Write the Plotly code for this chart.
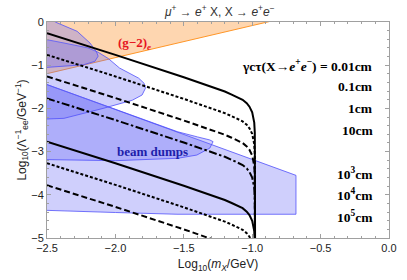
import plotly.graph_objects as go

# ---------------- data ----------------
# decay-length contours: shared x grid, one y list per contour
curve_x = [-2.5, -2.0, -1.5, -1.3, -1.2, -1.15, -1.1, -1.07, -1.04, -1.02, -1.0, -0.99, -0.985, -0.981, -0.979, -0.978]
c_001cm = [-0.26, -0.76, -1.28, -1.49, -1.61, -1.68, -1.75, -1.80, -1.88, -1.96, -2.09, -2.21, -2.33, -2.56, -2.93, -6.28]
c_01cm  = [-0.76, -1.26, -1.78, -1.99, -2.11, -2.18, -2.25, -2.30, -2.38, -2.46, -2.59, -2.71, -2.83, -3.06, -3.43, -6.78]
c_1cm   = [-1.26, -1.76, -2.28, -2.49, -2.61, -2.68, -2.75, -2.80, -2.88, -2.96, -3.09, -3.21, -3.33, -3.56, -3.93, -7.28]
c_10cm  = [-1.77, -2.27, -2.79, -3.00, -3.12, -3.19, -3.26, -3.31, -3.39, -3.47, -3.60, -3.72, -3.84, -4.07, -4.44, -7.79]
c_1e3cm = [-2.77, -3.27, -3.79, -4.00, -4.12, -4.19, -4.26, -4.31, -4.39, -4.47, -4.60, -4.72, -4.84, -5.07, -5.44, -8.79]
c_1e4cm = [-3.27, -3.77, -4.29, -4.50, -4.62, -4.69, -4.76, -4.81, -4.89, -4.97, -5.10, -5.22, -5.34, -5.57, -5.94, -9.29]
c_1e5cm = [-3.78, -4.28, -4.80, -5.01, -5.13, -5.20, -5.27, -5.32, -5.40, -5.48, -5.61, -5.73, -5.85, -6.08, -6.45, -9.80]
curve_labels = ["0.01cm", "0.1cm", "1cm", "10cm", "10<sup>3</sup>cm", "10<sup>4</sup>cm", "10<sup>5</sup>cm"]
label_y = [-1.0, -1.5, -2.0, -2.5, -3.5, -4.0, -4.5]

# (g-2)_e excluded region (upper-left triangle)
g2_x = [-2.6, -0.7, -0.7, -2.6]
g2_y = [-1.27, 0.14, 0.3, 0.3]

# beam-dump regions
bdA_x = [-2.6, -2.46, -2.44, -2.28, -2.186, -2.14, -2.126, -2.15, -2.233, -2.376, -2.5, -2.6]
bdA_y = [0.1, 0.1, 0.0, -0.215, -0.486, -0.68, -0.79, -0.91, -0.99, -1.03, -1.05, -1.06]

bdB_x = [-2.6, -2.5, -2.376, -2.2, -2.126, -2.05, -1.97, -1.83, -1.79, -1.78, -1.805, -1.876, -2.09, -2.28, -2.376, -2.5, -2.6]
bdB_y = [-0.40, -0.41, -0.486, -0.60, -0.70, -0.85, -1.065, -1.30, -1.42, -1.53, -1.69, -1.81, -2.0, -2.15, -2.23, -2.245, -2.25]

bdC_x = [-2.6, -0.68, -0.68, -1.55, -2.0, -2.3, -2.5, -2.6]
bdC_y = [-1.334, -3.55, -4.45, -4.45, -4.41, -4.37, -4.35, -4.35]

bdD_x = [-2.6, -1.546, -1.4, -1.31, -1.286, -1.31, -1.405, -1.546, -2.0, -2.5, -2.6]
bdD_y = [-1.334, -2.54, -2.66, -2.73, -2.77, -2.92, -3.08, -3.155, -3.21, -3.18, -3.18]

x_ticks = [-2.5, -2.0, -1.5, -1.0, -0.5, 0.0]
y_ticks = [0, -1, -2, -3, -4, -5]

# ---------------- figure ----------------
fig = go.Figure()

ORANGE_FILL = "rgba(253,200,150,0.75)"
ORANGE_LINE = "rgb(255,150,40)"
BLUE_FILL = "rgba(105,105,245,0.32)"
BLUE_LINE = "rgb(80,80,250)"

fig.add_trace(go.Scatter(x=g2_x, y=g2_y, fill="toself", fillcolor=ORANGE_FILL,
                         mode="lines", line=dict(color=ORANGE_LINE, width=1), hoverinfo="skip"))
for xs, ys in [(bdC_x, bdC_y), (bdD_x, bdD_y), (bdB_x, bdB_y), (bdA_x, bdA_y)]:
    fig.add_trace(go.Scatter(x=xs, y=ys, fill="toself", fillcolor=BLUE_FILL,
                             mode="lines", line=dict(color=BLUE_LINE, width=0.8), hoverinfo="skip"))

styles = ["solid", "3px,2px", "6px,3px", "8px,2.5px,2.5px,2.5px", "solid", "3px,2px", "6px,3px"]
for ys, dash in zip([c_001cm, c_01cm, c_1cm, c_10cm, c_1e3cm, c_1e4cm, c_1e5cm], styles):
    fig.add_trace(go.Scatter(x=curve_x, y=ys, mode="lines",
                             line=dict(color="black", width=2, dash=dash),
                             hoverinfo="skip"))

serif = "Liberation Serif, Times New Roman, serif"
for i, (lab, yy) in enumerate(zip(curve_labels, label_y)):
    txt = ("<b>γcτ(X→<i>e</i><sup>+</sup><i>e</i><sup>−</sup>) = " + lab + "</b>") if i == 0 else "<b>" + lab + "</b>"
    fig.add_annotation(x=-0.1, y=yy, text=txt, showarrow=False, xanchor="right", yanchor="middle",
                       font=dict(family=serif, size=13.5, color="black"))

fig.add_annotation(x=-1.862, y=-0.49, text="<b>(g−2)<sub><i>e</i></sub></b>", showarrow=False,
                   font=dict(family=serif, size=13, color="rgb(230,20,30)"))
fig.add_annotation(x=-1.732, y=-3.0, text="<b>beam dumps</b>", showarrow=False,
                   font=dict(family=serif, size=13, color="rgb(30,30,170)"))

sans = "Liberation Sans, Arial, sans-serif"
fig.update_layout(
    width=407, height=280,
    margin=dict(l=47, r=10, t=22, b=42),
    paper_bgcolor="white", plot_bgcolor="white",
    showlegend=False,
    title=dict(text="<i>μ</i><sup>+</sup> → <i>e</i><sup>+</sup> X, X → <i>e</i><sup>+</sup><i>e</i><sup>−</sup>",
               x=0.54, xanchor="center", y=0.958, yanchor="middle",
               font=dict(family=sans, size=12, color="#333")),
    font=dict(family=sans, size=11, color="#222"),
)
axis_common = dict(showline=True, linecolor="rgb(160,160,160)", linewidth=1, mirror="allticks",
                   ticks="inside", ticklen=4, tickcolor="rgb(160,160,160)", showgrid=False, zeroline=False,
                   tickfont=dict(family=sans, size=11, color="#222"))
fig.update_xaxes(range=[-2.5, 0], tickvals=x_ticks, tickformat=".1f",
                 minor=dict(ticks="inside", ticklen=2, dtick=0.1, tickcolor="rgb(160,160,160)"),
                 title=dict(text="Log<sub>10</sub>(<i>m</i><sub><i>X</i></sub>/GeV)", standoff=6,
                            font=dict(family=sans, size=12, color="#222")),
                 **axis_common)
fig.update_yaxes(range=[-5, 0], tickvals=y_ticks, tickformat="d",
                 minor=dict(ticks="inside", ticklen=2, dtick=0.2, tickcolor="rgb(160,160,160)"),
                 title=dict(text="Log<sub>10</sub>(Λ<sup>−1</sup><sub>ee</sub>/GeV<sup>−1</sup>)", standoff=2,
                            font=dict(family=sans, size=12, color="#222")),
                 **axis_common)

# remove the default 8px page-body margin so the figure sits at the window's corner
fig.write_html("out.html", config={"displayModeBar": False},
               post_script="document.body.style.margin='0px';")
